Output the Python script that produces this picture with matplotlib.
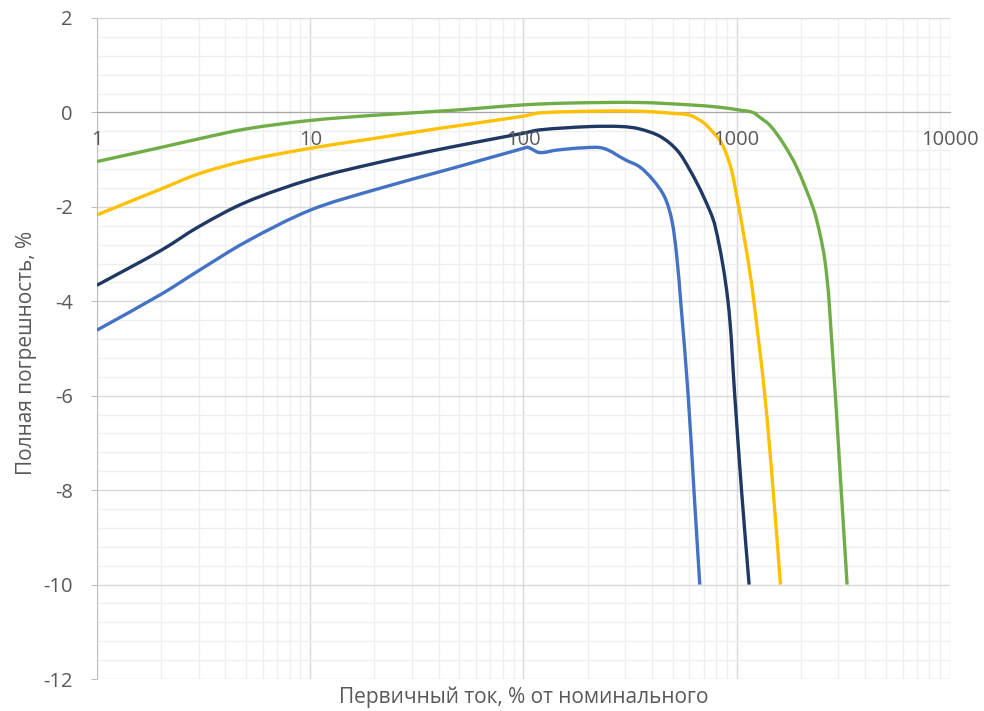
import numpy as np
import matplotlib.pyplot as plt
from matplotlib.path import Path
from matplotlib.patches import PathPatch
from matplotlib.ticker import FixedLocator, NullFormatter, MultipleLocator

# Primary current, % of rated, and total error, %, for four transformer cores
blue_x = [1, 2, 3, 5, 10, 20, 45, 100, 105, 119, 142, 190, 237, 302, 350, 405, 459, 496, 522, 546, 592, 630, 671]
blue_y = [-4.61, -3.85, -3.35, -2.74, -2.07, -1.64, -1.20, -0.76, -0.74, -0.85, -0.80, -0.75, -0.76,
          -1.01, -1.15, -1.43, -1.79, -2.28, -3.00, -4.00, -6.00, -8.00, -10.0]

navy_x = [1, 2, 3, 5, 10, 20, 45, 100, 119, 204, 290, 350, 438, 525, 603, 700, 793, 910, 979, 1053, 1143]
navy_y = [-3.66, -2.92, -2.42, -1.90, -1.42, -1.08, -0.74, -0.44, -0.37, -0.30, -0.30, -0.35, -0.51,
          -0.80, -1.22, -1.79, -2.42, -4.00, -6.00, -8.00, -10.0]

yellow_x = [1, 2, 3, 5, 10, 20, 40, 100, 119, 245, 377, 500, 603, 700, 760, 830, 880, 945, 1007, 1110, 1190,
            1355, 1482, 1604]
yellow_y = [-2.17, -1.62, -1.30, -1.02, -0.76, -0.55, -0.34, -0.08, -0.01, 0.03, 0.02, -0.02, -0.06,
            -0.22, -0.38, -0.58, -0.80, -1.22, -1.85, -2.92, -3.83, -6.00, -8.00, -10.0]

green_x = [1, 2, 3, 5, 10, 20, 45, 100, 170, 350, 600, 830, 1030, 1190, 1280, 1429, 1650, 1906, 2281,
           2453, 2590, 2713, 3090, 3293]
green_y = [-1.04, -0.74, -0.56, -0.35, -0.17, -0.06, 0.04, 0.16, 0.20, 0.21, 0.16, 0.11, 0.05, 0.00,
           -0.10, -0.27, -0.65, -1.15, -2.02, -2.56, -3.13, -4.02, -8.00, -10.0]

series = [
    (blue_x, blue_y, '#4472C4'),
    (navy_x, navy_y, '#203864'),
    (yellow_x, yellow_y, '#FFC000'),
    (green_x, green_y, '#70AD47'),
]

x_ticks = [1, 10, 100, 1000, 10000]
x_labels = ['1', '10', '100', '1000', '10000']


def smooth_path(xs, ys, sx=213.3, sy=47.2):
    # smoothed line through the points: cubic bezier pieces with chord-length
    # tangents, worked out in (log10 x, y) scaled to screen proportions
    p = np.column_stack([np.log10(np.asarray(xs, float)) * sx, np.asarray(ys, float) * sy])
    n = len(p)
    tang = np.zeros_like(p)
    for i in range(n):
        d = p[min(i + 1, n - 1)] - p[max(i - 1, 0)]
        tang[i] = d / np.hypot(*d)
    verts = [p[0]]
    codes = [Path.MOVETO]
    for i in range(n - 1):
        L = np.hypot(*(p[i + 1] - p[i])) / 3
        verts += [p[i] + tang[i] * L, p[i + 1] - tang[i + 1] * L, p[i + 1]]
        codes += [Path.CURVE4] * 3
    verts = np.array(verts)
    verts[:, 0] = 10 ** (verts[:, 0] / sx)
    verts[:, 1] = verts[:, 1] / sy
    return Path(verts, codes)


plt.rcParams['font.family'] = ['Open Sans', 'DejaVu Sans']
plt.rcParams['axes.unicode_minus'] = False

fig = plt.figure(figsize=(9.84, 7.11), dpi=100)
ax = fig.add_axes([0.0986, 0.045, 0.8668, 0.9297])

ax.set_xscale('log')
ax.set_xlim(1, 10000)
ax.set_ylim(-12, 2)

for xs, ys, col in series:
    ax.add_patch(PathPatch(smooth_path(xs, ys), facecolor='none', edgecolor=col, lw=2.4,
                           capstyle='butt', joinstyle='round', zorder=3))

ax.xaxis.set_major_locator(FixedLocator(x_ticks))
ax.xaxis.set_minor_locator(FixedLocator([m * 10 ** d for d in range(4) for m in range(2, 10)]))
ax.xaxis.set_major_formatter(NullFormatter())
ax.xaxis.set_minor_formatter(NullFormatter())
ax.yaxis.set_major_locator(MultipleLocator(2))
ax.yaxis.set_minor_locator(MultipleLocator(0.4))

ax.grid(which='major', color='#d9d9d9', lw=1.0, zorder=0)
ax.grid(which='minor', color='#efefef', lw=0.9, zorder=0)
ax.set_axisbelow(True)

# x axis crosses at zero, labels sit just under it
ax.spines['bottom'].set_position(('data', 0))
ax.spines['bottom'].set_color('#a6a6a6')
ax.spines['left'].set_color('#bfbfbf')
ax.spines['top'].set_visible(False)
ax.spines['right'].set_visible(False)

for xv, lab in zip(x_ticks, x_labels):
    ax.annotate(lab, (xv, 0), xytext=(0, -19.5), textcoords='offset points', ha='center',
                va='center', fontsize=14.5, color='#595959', zorder=5, annotation_clip=False)

ax.tick_params(axis='x', which='both', length=0)
ax.tick_params(axis='y', which='major', length=4.5, color='#bfbfbf', labelsize=14.5,
               labelcolor='#595959', pad=13)
ax.tick_params(axis='y', which='minor', length=0)

fig.text(0.0274, 0.5035, 'Полная погрешность, %', rotation=90, ha='center', va='center',
         fontsize=15, color='#595959')
fig.text(0.5325, 0.0197, 'Первичный ток, % от номинального', ha='center', va='center',
         fontsize=15, color='#595959')

fig.savefig('out.png', dpi=100)
